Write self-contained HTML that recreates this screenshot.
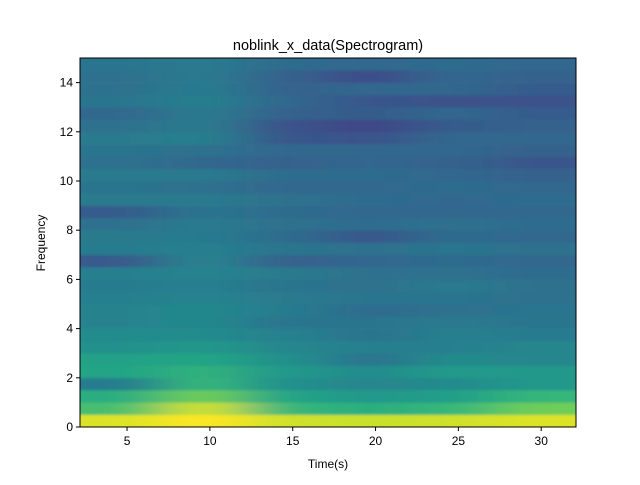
<!DOCTYPE html>
<html><head><meta charset="utf-8"><style>
body{margin:0;background:#fff;font-family:"Liberation Sans",sans-serif}
svg text{font-family:"Liberation Sans",sans-serif;fill:#000}
</style></head><body>
<svg id="c" width="640" height="480">
<defs>
<clipPath id="pc"><rect x="80" y="58" width="496" height="369"/></clipPath>
<filter id="bl" x="-10%" y="-10%" width="120%" height="120%"><feGaussianBlur stdDeviation="28 1.2"/></filter>
</defs>
<g id="heat" clip-path="url(#pc)"><g id="cells" filter="url(#bl)"></g></g>
<rect x="80" y="58" width="496" height="369" fill="none" stroke="#000" stroke-width="1"/>
<g id="axes"></g>
<text x="328" y="50" text-anchor="middle" font-size="14.5">noblink_x_data(Spectrogram)</text>
<text x="328" y="468" text-anchor="middle" font-size="12">Time(s)</text>
<text x="45" y="243" text-anchor="middle" font-size="12" transform="rotate(-90 45 243)">Frequency</text>
</svg>
<script>
const times=[4.6,9.6,14.6,19.6,24.6,29.6];
const freqStep=0.5;
const power=[
[0.95,1.0,0.93,0.92,0.93,0.95],
[0.70,0.93,0.66,0.62,0.66,0.78],
[0.62,0.78,0.58,0.53,0.56,0.66],
[0.42,0.66,0.50,0.46,0.48,0.53],
[0.58,0.64,0.53,0.48,0.54,0.53],
[0.57,0.58,0.50,0.38,0.48,0.46],
[0.50,0.53,0.46,0.43,0.43,0.46],
[0.48,0.48,0.44,0.38,0.43,0.42],
[0.45,0.47,0.39,0.39,0.41,0.39],
[0.45,0.47,0.42,0.35,0.37,0.39],
[0.43,0.45,0.41,0.39,0.39,0.37],
[0.42,0.43,0.39,0.37,0.41,0.37],
[0.43,0.45,0.41,0.37,0.37,0.35],
[0.28,0.45,0.31,0.33,0.35,0.33],
[0.42,0.43,0.39,0.37,0.39,0.37],
[0.41,0.42,0.35,0.27,0.35,0.33],
[0.37,0.41,0.37,0.35,0.37,0.35],
[0.29,0.39,0.35,0.33,0.33,0.33],
[0.41,0.41,0.37,0.35,0.33,0.35],
[0.39,0.37,0.33,0.33,0.35,0.33],
[0.41,0.41,0.35,0.35,0.33,0.31],
[0.37,0.33,0.31,0.33,0.31,0.27],
[0.39,0.37,0.33,0.33,0.33,0.31],
[0.41,0.43,0.27,0.25,0.33,0.33],
[0.37,0.41,0.25,0.21,0.29,0.31],
[0.33,0.41,0.31,0.29,0.33,0.29],
[0.39,0.43,0.33,0.27,0.25,0.25],
[0.37,0.42,0.31,0.33,0.33,0.29],
[0.37,0.41,0.31,0.23,0.33,0.31],
[0.39,0.41,0.35,0.33,0.35,0.33]
];
const xTicks=[5,10,15,20,25,30];
const yTicks=[0,2,4,6,8,10,12,14];
const xMin=2.16,xMax=32.1,yMin=0,yMax=15;
const L=80,R=576,T=58,B=427;
const X=v=>L+(v-xMin)/(xMax-xMin)*(R-L);
const Y=v=>B-(v-yMin)/(yMax-yMin)*(B-T);
const stops=[[68,1,84],[72,40,120],[62,74,137],[49,104,142],[38,130,142],[31,158,137],[53,183,121],[109,205,89],[180,222,44],[253,231,37]];
function vir(t){t=Math.max(0,Math.min(1,t));const p=t*(stops.length-1),i=Math.min(stops.length-2,Math.floor(p)),f=p-i;
const c=stops[i].map((a,k)=>Math.round(a+(stops[i+1][k]-a)*f));return `rgb(${c})`;}
const NS="http://www.w3.org/2000/svg";
const cells=document.getElementById('cells');
const half=(times[1]-times[0])/2;
power.forEach((row,ri)=>{row.forEach((v,ci)=>{
 const r=document.createElementNS(NS,'rect');
 let x0=X(times[ci]-half),x1=X(times[ci]+half);
 if(ci===0)x0-=60; if(ci===row.length-1)x1+=60;
 const y0=Y((ri+1)*freqStep),y1=Y(ri*freqStep);
 r.setAttribute('x',x0);r.setAttribute('y',ri===power.length-1?y0-20:y0);
 r.setAttribute('width',x1-x0+0.5);r.setAttribute('height',(ri===power.length-1?y1-y0+20:y1-y0)+(ri===0?20:0.3));
 r.setAttribute('fill',vir(v));
 
 
 cells.appendChild(r);});});
const ax=document.getElementById('axes');
xTicks.forEach(t=>{
 const l=document.createElementNS(NS,'line');l.setAttribute('x1',X(t));l.setAttribute('x2',X(t));l.setAttribute('y1',B);l.setAttribute('y2',B+4);l.setAttribute('stroke','#000');
 
 
 ax.appendChild(l);
 const s=document.createElementNS(NS,'text');s.setAttribute('x',X(t));s.setAttribute('y',B+18);s.setAttribute('text-anchor','middle');s.setAttribute('font-size','12');s.textContent=t;
 
 
 ax.appendChild(s);});
yTicks.forEach(t=>{
 const l=document.createElementNS(NS,'line');l.setAttribute('x1',L-4);l.setAttribute('x2',L);l.setAttribute('y1',Y(t));l.setAttribute('y2',Y(t));l.setAttribute('stroke','#000');
 
 
 ax.appendChild(l);
 const s=document.createElementNS(NS,'text');s.setAttribute('x',L-7);s.setAttribute('y',Y(t)+4);s.setAttribute('text-anchor','end');s.setAttribute('font-size','12');s.textContent=t;
 
 
 ax.appendChild(s);});
</script>
</body></html>
